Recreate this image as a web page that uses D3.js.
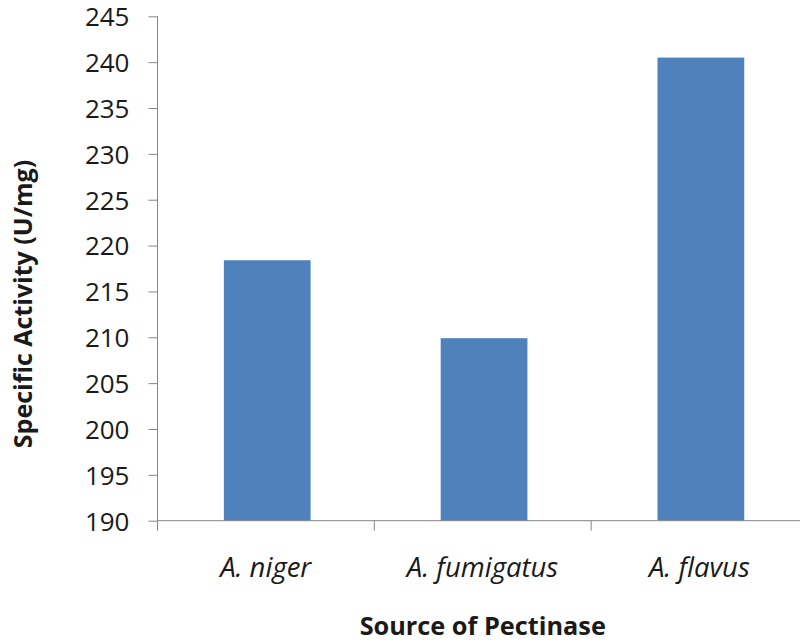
<!DOCTYPE html>
<html>
<head>
<meta charset="utf-8">
<script src="https://cdn.jsdelivr.net/npm/d3@7"></script>
<style>
  html, body { margin: 0; padding: 0; background: #fff; }
  svg { display: block; }
  text { font-family: "Open Sans", sans-serif; fill: #1a1a1a; }
</style>
</head>
<body>
<svg id="chart" width="800" height="642"></svg>
<script>
const categories = ["A. niger", "A. fumigatus", "A. flavus"];
const values = [218.4, 209.9, 240.5];
const yTicks = [190, 195, 200, 205, 210, 215, 220, 225, 230, 235, 240, 245];
const xTitle = "Source of Pectinase";
const yTitle = "Specific Activity (U/mg)";

const svg = d3.select("#chart");
const mLeft = 157.5, mRight = 808, mTop = 16.3, mBottom = 520.7;

const x = d3.scaleBand().domain(categories).range([mLeft, mRight])
  .paddingInner(0.6).paddingOuter(0.3).align(0.51);
const y = d3.scaleLinear().domain([190, 245]).range([mBottom, mTop]);

// bars
svg.append("g").selectAll("rect").data(categories).join("rect")
  .attr("x", d => x(d))
  .attr("width", x.bandwidth())
  .attr("y", (d, i) => y(values[i]))
  .attr("height", (d, i) => y(190) - y(values[i]))
  .attr("fill", "#4F81BD");

// y axis
const yAxis = svg.append("g").attr("transform", `translate(${mLeft},0)`)
  .call(d3.axisLeft(y).tickValues(yTicks).tickSize(9).tickPadding(19).tickFormat(d3.format("d")));
yAxis.select(".domain").attr("stroke", "#868686").attr("d", `M-0,${y(245)}V${y(190)}`);
yAxis.selectAll(".tick line").attr("stroke", "#868686");
yAxis.selectAll(".tick text").style("font-size", "26px").attr("fill", "#1a1a1a").attr("dy", "0.36em");

// x axis line and separators
const step = x.step();
const bounds = [0, 1, 2, 3].map(i => mLeft + i * step);
const xAxis = svg.append("g");
xAxis.append("line").attr("x1", mLeft).attr("x2", mRight).attr("y1", mBottom).attr("y2", mBottom)
  .attr("stroke", "#868686");
xAxis.selectAll("line.sep").data(bounds).join("line").attr("class", "sep")
  .attr("x1", d => d).attr("x2", d => d).attr("y1", mBottom).attr("y2", mBottom + 10)
  .attr("stroke", "#868686");

// category labels
svg.append("g").selectAll("text").data(categories).join("text")
  .attr("x", d => x(d) + x.bandwidth() / 2 - 1.5)
  .attr("y", 577)
  .attr("text-anchor", "middle")
  .style("font-size", "27.5px")
  .style("font-style", "italic")
  .text(d => d);

// axis titles
svg.append("text")
  .attr("x", (mLeft + mRight) / 2).attr("y", 635)
  .attr("text-anchor", "middle")
  .style("font-size", "25.3px").style("font-weight", "bold")
  .text(xTitle);

svg.append("text")
  .attr("transform", "translate(32,304) rotate(-90)")
  .attr("text-anchor", "middle")
  .style("font-size", "25px").style("font-weight", "bold")
  .text(yTitle);
</script>
</body>
</html>
